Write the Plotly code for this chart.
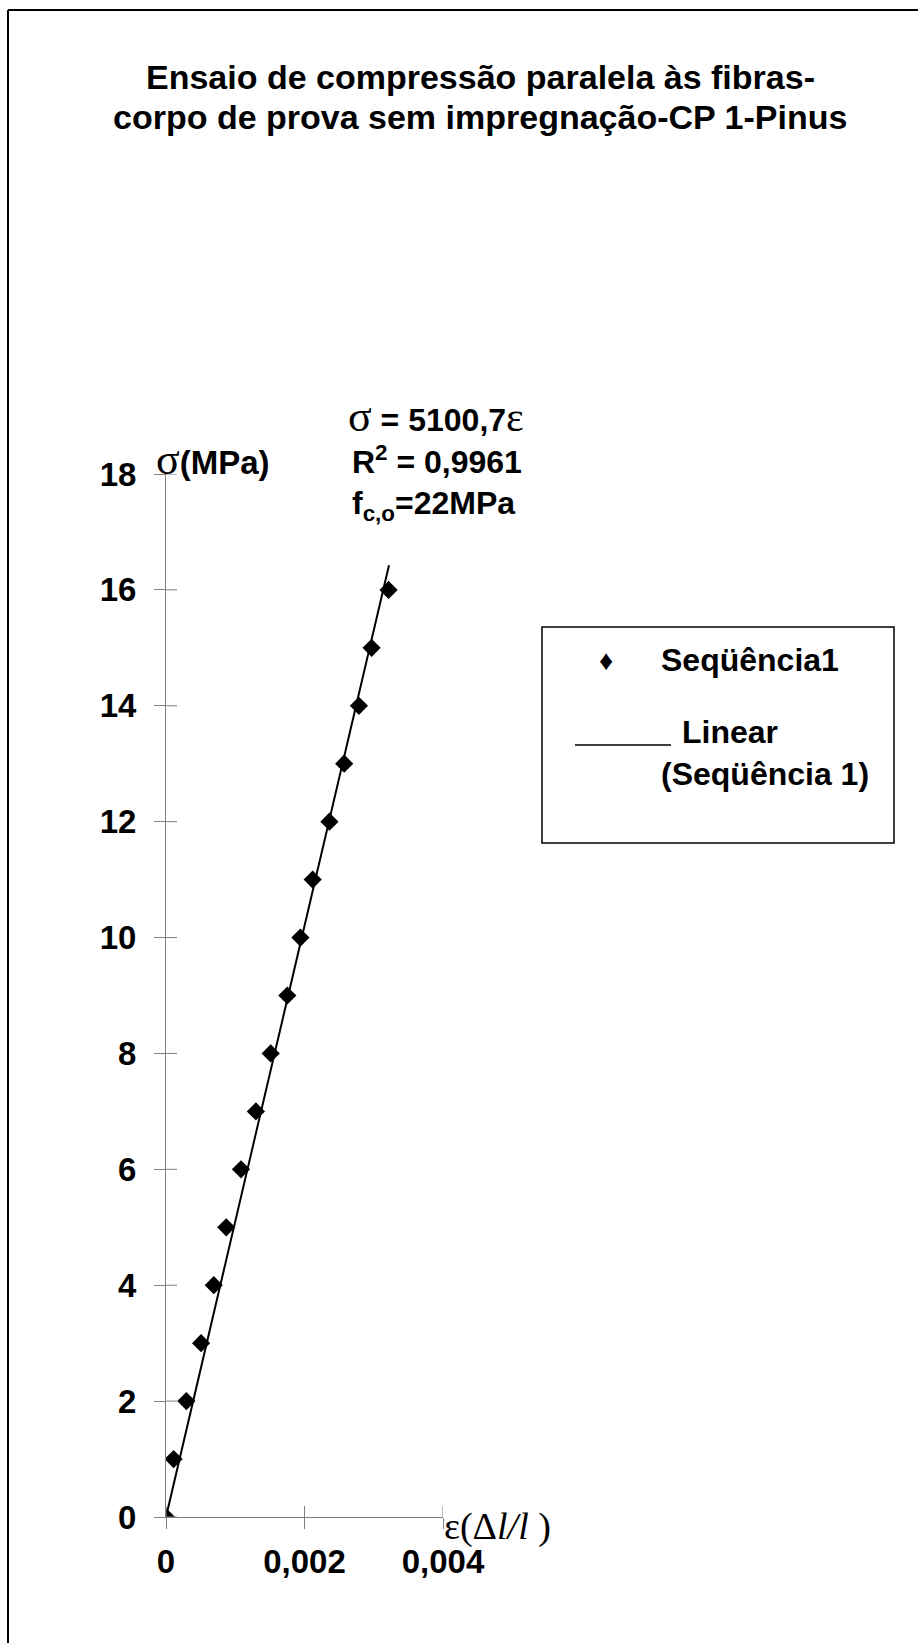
import plotly.graph_objects as go

# Compression test, parallel to grain (Pinus, CP 1): strain vs stress
strain = [0.0, 0.000110, 0.000294, 0.000507, 0.000690, 0.000870, 0.001083,
          0.001298, 0.001512, 0.001752, 0.001941, 0.002118, 0.002360,
          0.002573, 0.002786, 0.002969, 0.003214]
stress = [0, 1, 2, 3, 4, 5, 6, 7, 8, 9, 10, 11, 12, 13, 14, 15, 16]

# Linear trendline through origin
slope = 5100.7
trend_x = [0.0, 0.00322]
trend_y = [slope * v for v in trend_x]

x_tickvals = [0, 0.002, 0.004]
x_ticktext = ["0", "0,002", "0,004"]
y_tickvals = [0, 2, 4, 6, 8, 10, 12, 14, 16, 18]
y_ticktext = ["0", "2", "4", "6", "8", "10", "12", "14", "16", "18"]

W, H = 918, 1643
L, R, T, B = 166, 475, 474, 126
PW, PH = W - L - R, H - T - B


def px(x):
    return (x - L) / PW


def py(y):
    return 1 - (y - T) / PH


SANS = "Liberation Sans"
SERIF = "Liberation Serif"
AX = "#808080"

fig = go.Figure()
fig.add_trace(go.Scatter(x=trend_x, y=trend_y, mode="lines",
                         line=dict(color="black", width=2), showlegend=False,
                         hoverinfo="skip"))
fig.add_trace(go.Scatter(x=strain, y=stress, mode="markers",
                         marker=dict(symbol="diamond", size=14, color="black"),
                         showlegend=False))

fig.update_xaxes(range=[0, 0.004], tickvals=x_tickvals, ticktext=x_ticktext,
                 showgrid=False, zeroline=False, showline=True, linecolor=AX,
                 linewidth=1, ticks="outside", ticklen=11, tickcolor=AX,
                 tickwidth=1, ticklabelstandoff=4,
                 tickfont=dict(family=SANS, size=33, color="black", weight="bold"))
fig.update_yaxes(range=[0, 18], tickvals=y_tickvals, ticktext=y_ticktext,
                 showgrid=False, zeroline=False, showline=True, linecolor=AX,
                 linewidth=1, ticks="outside", ticklen=11, tickcolor=AX,
                 tickwidth=1, ticklabelstandoff=11,
                 tickfont=dict(family=SANS, size=33, color="black", weight="bold"))

shapes = []
# inner halves of the crossing tick marks
for v in y_tickvals:
    shapes.append(dict(type="line", xref="x", yref="y", xsizemode="pixel",
                       xanchor=0, x0=0, x1=11, y0=v, y1=v,
                       line=dict(color=AX, width=1)))
for v in x_tickvals:
    shapes.append(dict(type="line", xref="x", yref="y", ysizemode="pixel",
                       yanchor=0, y0=0, y1=11, x0=v, x1=v,
                       line=dict(color=AX, width=1)))
# chart frame (top and left edges)
shapes.append(dict(type="line", xref="paper", yref="paper",
                   x0=px(8), x1=px(W + 5), y0=py(10), y1=py(10),
                   line=dict(color="black", width=2)))
shapes.append(dict(type="line", xref="paper", yref="paper",
                   x0=px(8), x1=px(8), y0=py(10), y1=py(H + 5),
                   line=dict(color="black", width=2)))
# legend box
shapes.append(dict(type="rect", xref="paper", yref="paper",
                   x0=px(542), x1=px(894), y0=py(627), y1=py(843),
                   line=dict(color="black", width=1.5), fillcolor="white"))
# legend line sample
shapes.append(dict(type="line", xref="paper", yref="paper",
                   x0=px(575), x1=px(671), y0=py(745), y1=py(745),
                   line=dict(color="black", width=1.5)))

ann = []


def text(x, y, s, size=30, family=SANS, xanchor="left", yanchor="middle",
         pad=1):
    ann.append(dict(x=px(x), y=py(y), xref="paper", yref="paper", text=s,
                    showarrow=False, xanchor=xanchor, yanchor=yanchor,
                    borderpad=pad,
                    font=dict(family=family, size=size, color="black")))


def greek(ch, size):
    return f"<span style='font-family:{SERIF};font-size:{size}px'>{ch}</span>"


# chart title, two lines
text(480, 77, "<b>Ensaio de compressão paralela às fibras-</b>", size=34,
     xanchor="center")
text(480, 117, "<b>corpo de prova sem impregnação-CP 1-Pinus</b>", size=34,
     xanchor="center")

# trendline equation and strength
text(346, 416, f"{greek('σ', 44)}<b> = 5100,7</b>{greek('ε', 42)}", size=32)
text(350, 460, "<b>R<sup>2</sup> = 0,9961</b>", size=32)
text(350, 505, "<b>f<sub>c,o</sub>=22MPa</b>", size=32)

# axis titles
text(154, 459, f"{greek('σ', 44)}<b>(MPa)</b>", size=33)
text(443, 1526, "ε(Δ<i>l/l</i> )", size=38, family=SERIF, pad=0)

# legend entries
text(606, 660, "♦", size=28, xanchor="center")
text(659, 660, "<b>Seqüência1</b>", size=32)
text(680, 732, "<b>Linear</b>", size=32)
text(659, 774, "<b>(Seqüência 1)</b>", size=32)

fig.update_layout(
    width=W, height=H,
    margin=dict(l=L, r=R, t=T, b=B),
    paper_bgcolor="white", plot_bgcolor="white",
    shapes=shapes, annotations=ann,
    showlegend=False,
)

fig.write_html("out.html")
